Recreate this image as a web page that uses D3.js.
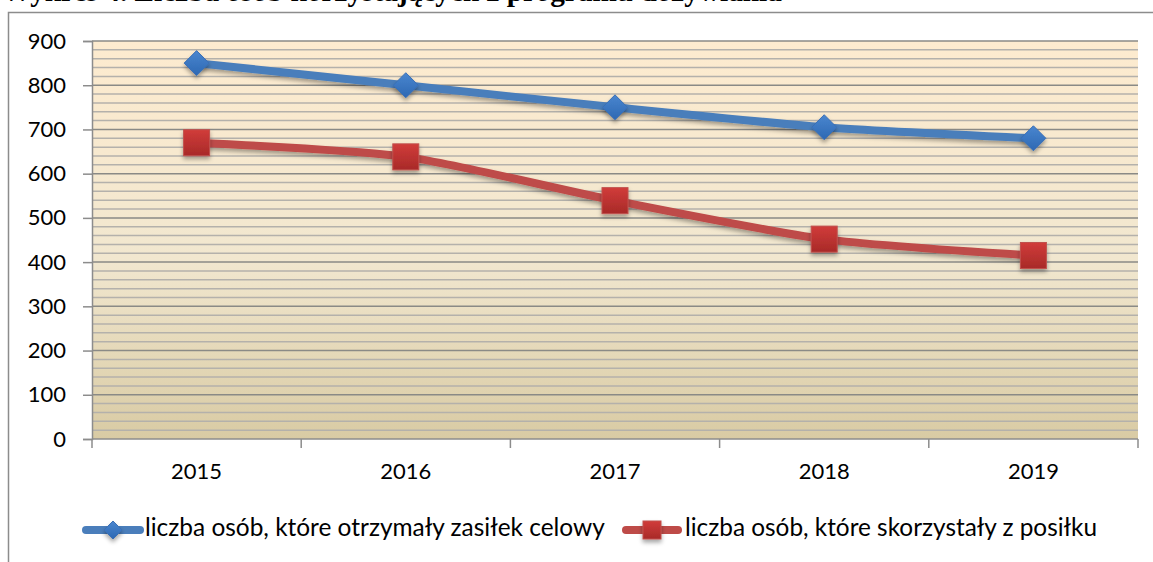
<!DOCTYPE html>
<html>
<head>
<meta charset="utf-8">
<script src="https://cdn.jsdelivr.net/npm/d3@7"></script>
<style>
  html, body { margin: 0; padding: 0; background: #fff; }
  svg { display: block; }
</style>
</head>
<body>
<div id="container"></div>
<script>
const years = ["2015", "2016", "2017", "2018", "2019"];
const zasilek = [850, 800, 750, 705, 680];
const posilek = [670, 638, 539, 452, 415];
const yTicks = [0, 100, 200, 300, 400, 500, 600, 700, 800, 900];
const seriesNames = [
  "liczba osób, które otrzymały zasiłek celowy",
  "liczba osób, które skorzystały z posiłku"
];
const titleText = "Wykres 4. Liczba osób korzystających z programu dożywiania";

const W = 1153, H = 562;
const margin = { top: 41, right: 15, bottom: 123, left: 92 };
const width = W - margin.left - margin.right;
const height = H - margin.top - margin.bottom;
const font = "Lato, 'Open Sans', sans-serif";

const svg = d3.select("#container").append("svg")
  .attr("width", W).attr("height", H);

// scale a text's font size so it fills the wanted width
function fitText(sel, target) {
  const base = parseFloat(sel.style("font-size"));
  const len = sel.node().getComputedTextLength();
  sel.style("font-size", (base * target / len).toFixed(2) + "px");
}

const defs = svg.append("defs");
const grad = defs.append("linearGradient")
  .attr("id", "bg").attr("x1", 0).attr("y1", 0).attr("x2", 0).attr("y2", 1);
grad.append("stop").attr("offset", "0%").attr("stop-color", "#fdebcf");
grad.append("stop").attr("offset", "55%").attr("stop-color", "#f1e7cf");
grad.append("stop").attr("offset", "100%").attr("stop-color", "#d9cba4");

const shadow = defs.append("filter").attr("id", "shadow")
  .attr("x", "-50%").attr("y", "-50%").attr("width", "200%").attr("height", "200%");
shadow.append("feDropShadow").attr("dx", 0).attr("dy", 3).attr("stdDeviation", 2)
  .attr("flood-color", "#000").attr("flood-opacity", 0.35);

const blueGrad = defs.append("linearGradient")
  .attr("id", "blueMark").attr("x1", 0).attr("y1", 0).attr("x2", 0).attr("y2", 1);
blueGrad.append("stop").attr("offset", "0%").attr("stop-color", "#4a86cf");
blueGrad.append("stop").attr("offset", "100%").attr("stop-color", "#2d68b3");
const redGrad = defs.append("linearGradient")
  .attr("id", "redMark").attr("x1", 0).attr("y1", 0).attr("x2", 0).attr("y2", 1);
redGrad.append("stop").attr("offset", "0%").attr("stop-color", "#d13c3a");
redGrad.append("stop").attr("offset", "100%").attr("stop-color", "#a82a28");

// title, cut off at the top of the picture like in the scan
const title = svg.append("text")
  .attr("x", 2).attr("y", 1)
  .style("font-family", "'Liberation Serif', 'Times New Roman', serif")
  .style("font-size", "21px").style("font-weight", "bold")
  .text(titleText);
fitText(title, 780);

// outer chart border
svg.append("rect")
  .attr("x", 8.5).attr("y", 12.5).attr("width", W + 20).attr("height", H + 20)
  .attr("fill", "none").attr("stroke", "#8c8c8c").attr("stroke-width", 1.5);

const g = svg.append("g").attr("transform", `translate(${margin.left},${margin.top})`);

const x = d3.scaleBand().domain(years).range([0, width]);
const y = d3.scaleLinear().domain([0, 900]).range([height, 0]);

g.append("rect").attr("width", width).attr("height", height).attr("fill", "url(#bg)");

// minor gridlines every 20
const minor = d3.range(20, 900, 20).filter(v => v % 100 !== 0);
g.selectAll(".minor").data(minor).join("line")
  .attr("x1", 0).attr("x2", width)
  .attr("y1", d => y(d)).attr("y2", d => y(d))
  .attr("stroke", "#b4b1ab").attr("stroke-width", 1.5);

// major gridlines
g.selectAll(".major").data(yTicks.filter(v => v > 0)).join("line")
  .attr("x1", 0).attr("x2", width)
  .attr("y1", d => y(d)).attr("y2", d => y(d))
  .attr("stroke", "#8a8a86").attr("stroke-width", 1.5);

// x axis: ticks at category boundaries
const xAxis = g.append("g").attr("transform", `translate(0,${height})`);
xAxis.append("line").attr("x1", 0).attr("x2", width)
  .attr("stroke", "#8c8c8c").attr("stroke-width", 1.5);
const bounds = years.map(d => x(d)).concat([width]);
xAxis.selectAll(".xt").data(bounds).join("line")
  .attr("x1", d => d).attr("x2", d => d).attr("y1", 0).attr("y2", 9)
  .attr("stroke", "#8c8c8c").attr("stroke-width", 1.5);
const xLabels = xAxis.selectAll(".xl").data(years).join("text")
  .attr("x", d => x(d) + x.bandwidth() / 2).attr("y", 34)
  .attr("text-anchor", "middle").attr("dominant-baseline", "middle")
  .style("font-family", font).style("font-size", "21px")
  .text(d => d);
fitText(xLabels.filter((d, i) => i === 0), 51);
const tickSize = xLabels.filter((d, i) => i === 0).style("font-size");
xLabels.style("font-size", tickSize);

// y axis
const yAxis = g.append("g")
  .call(d3.axisLeft(y).tickValues(yTicks).tickSize(9).tickPadding(17));
yAxis.select(".domain").attr("stroke", "#8c8c8c").attr("stroke-width", 1.5);
yAxis.selectAll(".tick line").attr("stroke", "#8c8c8c").attr("stroke-width", 1.5);
yAxis.selectAll("text")
  .style("font-family", font).style("font-size", tickSize).attr("fill", "#000");

const line = d3.line()
  .x((d, i) => x(years[i]) + x.bandwidth() / 2)
  .y(d => y(d))
  .curve(d3.curveCardinal.tension(0.3));

const series = [
  { values: zasilek, color: "#4a7ebb", mark: "diamond" },
  { values: posilek, color: "#be4b48", mark: "square" }
];

series.forEach(s => {
  g.append("path").datum(s.values)
    .attr("fill", "none").attr("stroke", s.color).attr("stroke-width", 8)
    .attr("stroke-linejoin", "round").attr("stroke-linecap", "round")
    .attr("filter", "url(#shadow)")
    .attr("d", line);
});

function drawMark(sel, kind, cx, cy, r) {
  if (kind === "diamond") {
    sel.append("path")
      .attr("d", `M${cx},${cy - r}L${cx + r},${cy}L${cx},${cy + r}L${cx - r},${cy}Z`)
      .attr("fill", "url(#blueMark)").attr("stroke", "#3a6fb5").attr("stroke-width", 1)
      .attr("filter", "url(#shadow)");
  } else {
    sel.append("rect")
      .attr("x", cx - r).attr("y", cy - r).attr("width", 2 * r).attr("height", 2 * r)
      .attr("fill", "url(#redMark)").attr("stroke", "#c0504d").attr("stroke-width", 1)
      .attr("filter", "url(#shadow)");
  }
}

series.forEach(s => {
  s.values.forEach((v, i) => {
    drawMark(g, s.mark, x(years[i]) + x.bandwidth() / 2, y(v), s.mark === "diamond" ? 12.5 : 13);
  });
});

// legend
const legendY = 530;
const legendItems = [
  { x0: 86, x1: 140, color: "#4a7ebb", mark: "diamond", r: 9, tx: 145, w: 460 },
  { x0: 626, x1: 678, color: "#be4b48", mark: "square", r: 9, tx: 685, w: 412 }
];
legendItems.forEach((it, i) => {
  svg.append("line")
    .attr("x1", it.x0).attr("x2", it.x1).attr("y1", legendY).attr("y2", legendY)
    .attr("stroke", it.color).attr("stroke-width", 8).attr("stroke-linecap", "round");
  drawMark(svg, it.mark, (it.x0 + it.x1) / 2, legendY, it.r);
  const t = svg.append("text")
    .attr("x", it.tx).attr("y", legendY).attr("dominant-baseline", "middle")
    .style("font-family", font).style("font-size", "21px")
    .text(seriesNames[i]);
  fitText(t, it.w);
});
</script>
</body>
</html>
